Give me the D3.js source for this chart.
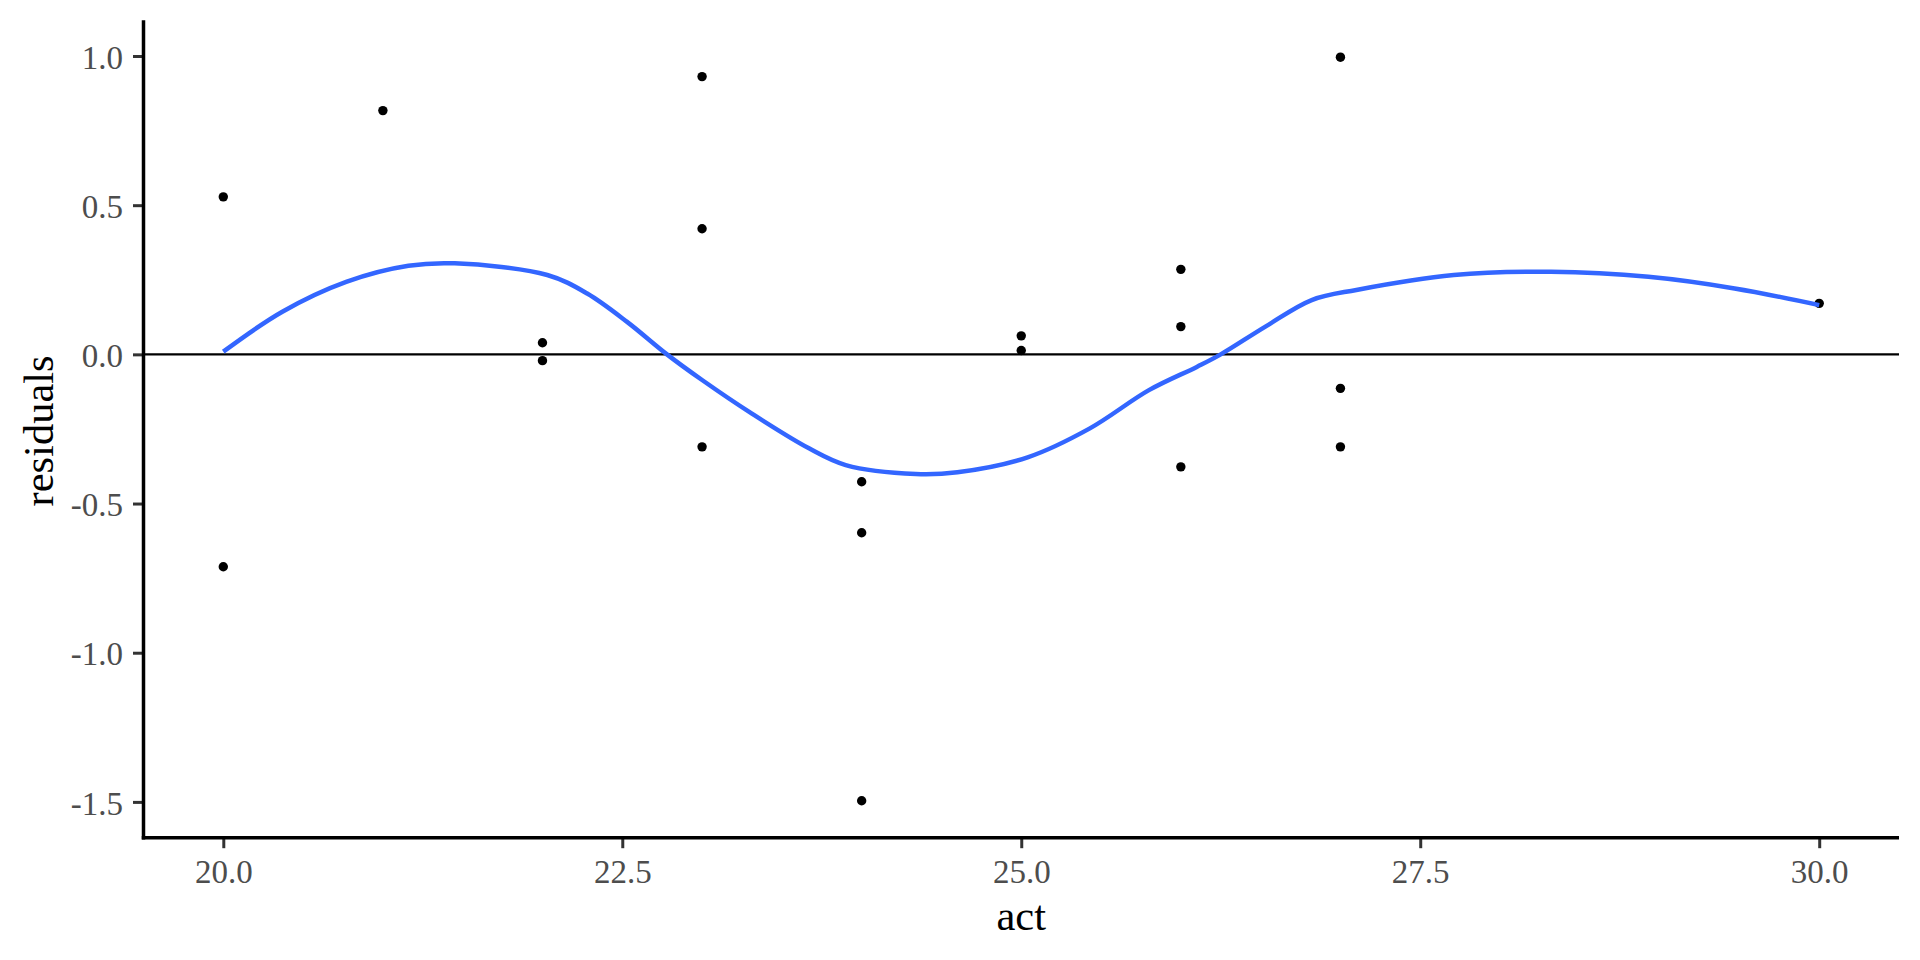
<!DOCTYPE html>
<html lang="en">
<head>
  <meta charset="UTF-8" />
  <title>residuals vs act</title>
  <script src="https://d3js.org/d3.v7.min.js"></script>
  <style>
    html, body {
      margin: 0;
      padding: 0;
      background: #ffffff;
      overflow: hidden;
    }
    svg {
      display: block;
      font-family: 'Liberation Serif', 'Times New Roman', serif;
    }
    .tick text {
      fill: #4d4d4d;
      font-size: 33px;
    }
    .tick line {
      stroke: #333333;
      stroke-width: 3px;
    }
    .axis-title {
      font-size: 42.5px;
      fill: #000;
    }
  </style>
</head>
<body>
<svg width="1920" height="960"></svg>
<script>
// observed points
const actX = [20, 20, 21, 22, 22, 23, 23, 23, 24, 24, 24, 25, 25, 26, 26, 26, 27, 27, 27, 30];
const residY = [0.528, -0.712, 0.817, 0.039, -0.021, 0.931, 0.421, -0.310, -0.427, -0.598, -1.496,
                0.062, 0.013, 0.285, 0.093, -0.377, 0.996, -0.114, -0.310, 0.171];

// smoother
const smoothX = [20.0, 20.37, 20.77, 21.16, 21.45, 22.03, 22.28, 22.53, 22.78, 23.0, 23.31, 23.67,
                 23.9, 24.34, 24.6, 25.04, 25.43, 25.8, 26.1, 26.25, 26.53, 26.82, 27.1, 27.71,
                 28.32, 28.93, 29.47, 30.0];
const smoothY = [0.009, 0.143, 0.243, 0.297, 0.305, 0.266, 0.204, 0.109, 0.0, -0.086, -0.198, -0.315,
                 -0.371, -0.401, -0.395, -0.345, -0.248, -0.12, -0.042, 0.0, 0.093, 0.182, 0.216, 0.266,
                 0.277, 0.26, 0.221, 0.165];

const xTicks = [20, 22.5, 25, 27.5, 30];
const yTicks = [-1.5, -1.0, -0.5, 0.0, 0.5, 1.0];

const panelLeft = 143.5, panelRight = 1899, panelTop = 20.2, panelBottom = 837.7;
const serif = "'Liberation Serif', 'Times New Roman', serif";

const svg = d3.select("svg");

const x = d3.scaleLinear().domain([19.5, 30.5]).range([panelLeft, panelRight]);
const y = d3.scaleLinear().domain([-1.62, 1.12]).range([panelBottom, panelTop]);

// zero line
svg.append("line")
  .attr("x1", panelLeft).attr("x2", panelRight)
  .attr("y1", y(0)).attr("y2", y(0))
  .attr("stroke", "#000").attr("stroke-width", 2.2);

// points
const pts = actX.map((a, i) => ({ a, r: residY[i] }));
svg.append("g")
  .selectAll("circle")
  .data(pts)
  .enter()
  .append("circle")
  .attr("cx", d => x(d.a))
  .attr("cy", d => y(d.r))
  .attr("r", 4.7)
  .attr("fill", "#000");

// smooth line
const smooth = smoothX.map((a, i) => [a, smoothY[i]]);
svg.append("path")
  .datum(smooth)
  .attr("fill", "none")
  .attr("stroke", "#3366FF")
  .attr("stroke-width", 4.5)
  .attr("d", d3.line()
    .x(d => x(d[0]))
    .y(d => y(d[1]))
    .curve(d3.curveCatmullRom.alpha(0.5)));

// axes
const xAxis = svg.append("g")
  .attr("transform", `translate(0,${panelBottom})`)
  .call(d3.axisBottom(x).tickValues(xTicks).tickFormat(d => d.toFixed(1)).tickSize(10.5).tickPadding(11.5));
xAxis.attr("font-family", serif).attr("font-size", null);
xAxis.select(".domain").remove();

const yAxis = svg.append("g")
  .attr("transform", `translate(${panelLeft},0)`)
  .call(d3.axisLeft(y).tickValues(yTicks).tickFormat(d => d.toFixed(1)).tickSize(10.5).tickPadding(10));
yAxis.attr("font-family", serif).attr("font-size", null);
yAxis.selectAll(".tick text").attr("dy", "0.37em");
yAxis.select(".domain").remove();

// axis lines
svg.append("line")
  .attr("x1", panelLeft).attr("x2", panelLeft)
  .attr("y1", panelTop).attr("y2", panelBottom + 1.75)
  .attr("stroke", "#000").attr("stroke-width", 3.5);
svg.append("line")
  .attr("x1", panelLeft - 1.75).attr("x2", panelRight)
  .attr("y1", panelBottom).attr("y2", panelBottom)
  .attr("stroke", "#000").attr("stroke-width", 3.5);

// titles
svg.append("text")
  .attr("class", "axis-title")
  .attr("x", (panelLeft + panelRight) / 2)
  .attr("y", 929.5)
  .attr("text-anchor", "middle")
  .text("act");

svg.append("text")
  .attr("class", "axis-title")
  .attr("transform", `translate(53,${(panelTop + panelBottom) / 2 + 2}) rotate(-90)`)
  .attr("text-anchor", "middle")
  .text("residuals");
</script>
</body>
</html>
